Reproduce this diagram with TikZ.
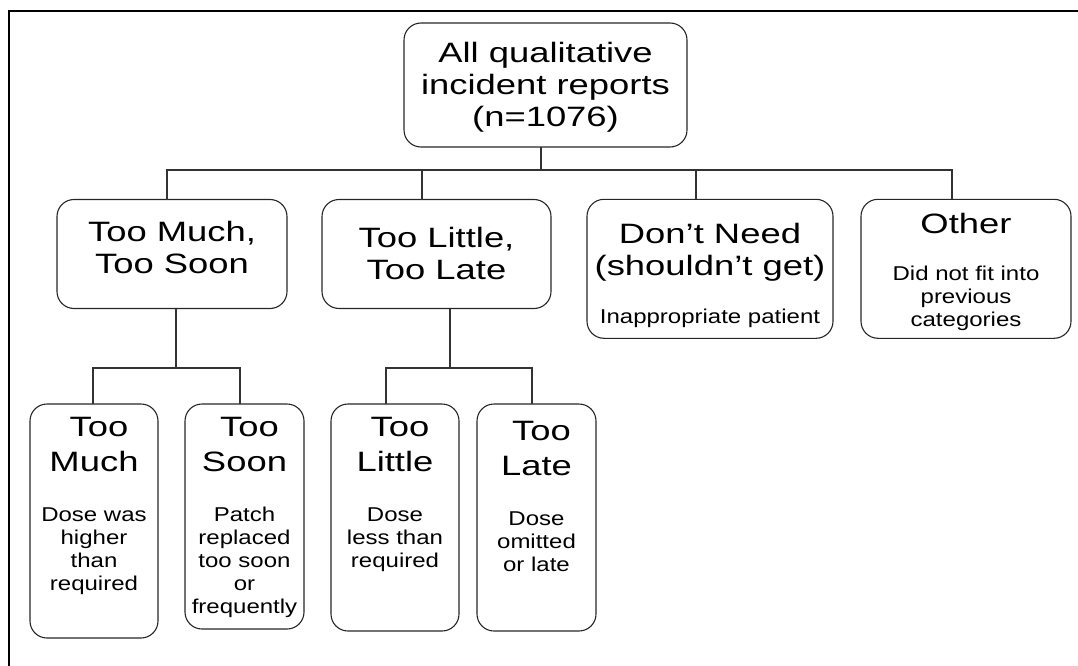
\documentclass[tikz,border=0pt]{standalone}
\usepackage{fontspec}
\newfontfamily\bigf{Liberation Sans}[FakeStretch=1.3]
\newfontfamily\smallf{Liberation Sans}[FakeStretch=1.2]
\newcommand\fbig[1][32]{\bigf\fontsize{28}{#1}\selectfont}
\newcommand\fsmall{\smallf\fontsize{20}{23}\selectfont}
\newcommand\bxc[4]{\begin{minipage}[c][#2][t]{#1}\centering\rule{0pt}{#3}#4\end{minipage}}
\tikzset{
  box/.style={draw=black!85, line width=1.1pt, rounded corners=17pt, inner sep=0pt, outer sep=0pt},
  link/.style={draw=black!80, line width=1.1pt},
  frame/.style={draw=black, line width=2pt}
}
\begin{document}
\begin{tikzpicture}[x=1pt,y=-1pt]
\useasboundingbox (0,0) rectangle (1078,666);
\draw[frame] (1078,11.5) -- (9,11.5) -- (9,666);

\node[box] (root) at (545.5,85) {\bxc{283pt}{124pt}{40pt}{\fbig All qualitative\\incident reports\\(n=1076)}};

\node[box] (tmts) at (172,254) {\bxc{230pt}{109pt}{41.5pt}{\fbig Too Much,\\Too Soon}};
\node[box] (tlte) at (436.5,254) {\bxc{229pt}{109pt}{47.5pt}{\fbig Too Little,\\Too Late}};
\node[box] (dn) at (710,268.8) {\bxc{246pt}{139pt}{44pt}{\fbig Don’t Need\\(shouldn’t get)\par\vspace{24.7pt}\fsmall Inappropriate patient}};
\node[box] (oth) at (966,268.8) {\bxc{210pt}{139pt}{34pt}{\fbig Other\par\vspace{23.7pt}\fsmall Did not fit into\\previous\\categories}};

\node[box] (tm) at (94,521) {\bxc{128pt}{234pt}{32.7pt}{\fbig[35] Too\\Much\par\vspace{26.3pt}\fsmall Dose was\\higher\\than\\required}};
\node[box] (ts) at (244.5,516.5) {\bxc{119pt}{225pt}{32.7pt}{\fbig[35] Too\\Soon\par\vspace{26.3pt}\fsmall Patch\\replaced\\too soon\\or\\frequently}};
\node[box] (tl) at (395,517.5) {\bxc{128pt}{227pt}{32.7pt}{\fbig[35] Too\\Little\par\vspace{26.3pt}\fsmall Dose\\less than\\required}};
\node[box] (tla) at (536.5,517.5) {\bxc{119pt}{227pt}{36.7pt}{\fbig[34.3] Too\\Late\par\vspace{27pt}\fsmall Dose\\omitted\\or late}};

\draw[link] ([xshift=-4.5pt]root.south) -- ++(0,23);
\draw[link] ([xshift=-5pt]tmts.north) -- ++(0,-29.5) -| ([xshift=-14pt]oth.north);
\draw[link] ([xshift=-14.5pt]tlte.north) -- ++(0,-29.5);
\draw[link] ([xshift=-14pt]dn.north) -- ++(0,-29.5);

\draw[link] ([xshift=4pt]tmts.south) -- ++(0,59.5);
\draw[link] ([xshift=-1pt]tm.north) -- ++(0,-36) -| ([xshift=-4.5pt]ts.north);
\draw[link] ([xshift=13.5pt]tlte.south) -- ++(0,59.5);
\draw[link] ([xshift=-9pt]tl.north) -- ++(0,-36) -| ([xshift=-4.5pt]tla.north);
\end{tikzpicture}
\end{document}
